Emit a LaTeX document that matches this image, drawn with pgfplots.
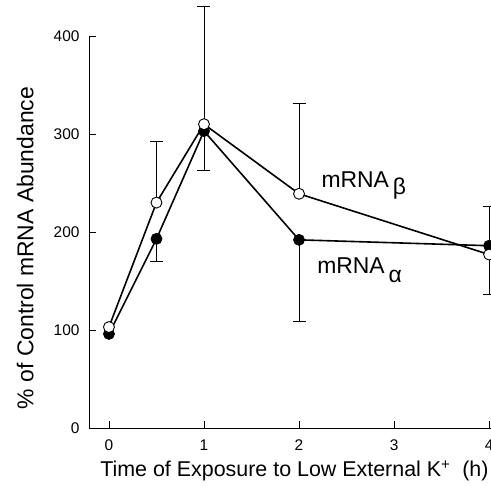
\documentclass[border=0pt]{standalone}
\usepackage{fontspec}
\setmainfont{Liberation Sans}
\usepackage{pgfplots}
\pgfplotsset{compat=1.18}
\begin{document}
\begin{tikzpicture}
\begin{axis}[
  at={(0,0)}, anchor=south west,
  scale only axis, width=402bp, height=392bp,
  xmin=-0.21, xmax=4.02, ymin=0, ymax=400,
  axis x line*=bottom, axis y line*=left,
  axis line style={line width=0.8bp},
  xtick={0,1,2,3,4}, ytick={0,100,200,300,400},
  tick align=inside, major tick length=7bp,
  tick style={black, line width=0.8bp},
  /pgf/number format/assume math mode=true,
  tick label style={font=\fontsize{15.5}{18}\selectfont},
  xticklabel style={yshift=-8bp},
  yticklabel style={xshift=-6bp},
  xlabel={Time of Exposure to Low External K\textsuperscript{+}~~(h)},
  ylabel={\% of Control mRNA Abundance},
  xlabel style={font=\fontsize{21.5}{25}\selectfont,
    at={(axis description cs:0.511,-0.11)}, anchor=center},
  ylabel style={font=\fontsize{23}{27}\selectfont,
    at={(axis description cs:-0.159,0.459)}, anchor=center, rotate=0},
  clip=false,
]
% error bars (upward ones)
\addplot[black, draw=none, mark=none, forget plot,
  error bars/.cd, y dir=plus, y explicit,
  error bar style={draw=black, line width=0.6bp},
  error mark options={rotate=90, black, line width=0.6bp, mark size=6.5bp}]
  coordinates {(0.5,230) +- (0,63) (1,310) +- (0,120) (2,239) +- (0,92) (4,186) +- (0,40)};
% error bars (downward ones)
\addplot[black, draw=none, mark=none, forget plot,
  error bars/.cd, y dir=minus, y explicit,
  error bar style={draw=black, line width=0.6bp},
  error mark options={rotate=90, black, line width=0.6bp, mark size=6.5bp}]
  coordinates {(0.5,193) +- (0,23) (1,303) +- (0,40) (2,192) +- (0,83) (4,177) +- (0,41)};
% mRNA alpha (filled)
\addplot[black, line width=1.6bp, mark=*, mark size=5.5bp,
  mark options={fill=black, line width=0.8bp}]
  coordinates {(0,96) (0.5,193) (1,303) (2,192) (4,186)};
% mRNA beta (open)
\addplot[black, line width=1.6bp, mark=*, mark size=5.5bp,
  mark options={fill=white, line width=0.9bp}]
  coordinates {(0,103) (0.5,230) (1,310) (2,239) (4,177)};
\node[anchor=base west, font=\fontsize{23}{27}\selectfont, inner sep=0pt]
  at (axis cs:2.235,245) {mRNA\,\raisebox{-0.3em}{β}};
\node[anchor=base west, font=\fontsize{23}{27}\selectfont, inner sep=0pt]
  at (axis cs:2.19,158) {mRNA\,\raisebox{-0.4em}{α}};
\end{axis}
\pgfresetboundingbox
\path[use as bounding box] (-89bp,-58bp) rectangle (402bp,428bp);
\end{tikzpicture}
\end{document}
